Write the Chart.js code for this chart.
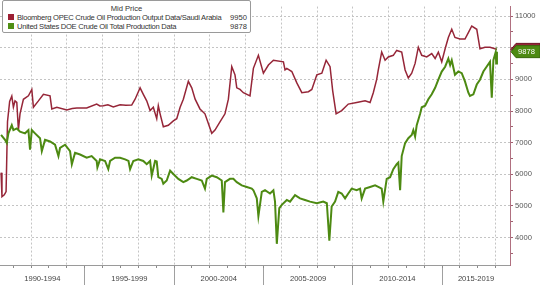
<!DOCTYPE html>
<html>
<head>
<meta charset="utf-8">
<script src="https://cdn.jsdelivr.net/npm/chart.js@4"></script>
<style>
    body { margin: 0; background: #ffffff; }
    #wrap { position: relative; width: 540px; height: 285px; }
    #legend {
        position: absolute; left: 2px; top: 0px; width: 249px; height: 33px;
        border: 1px solid #9a9a9a; border-radius: 2px; background: #ffffff;
        font-family: 'Liberation Sans', Arial, sans-serif; font-size: 7.6px; color: #333;
        box-sizing: border-box;
    }
    #legend .title { text-align: center; margin-top: 3px; line-height: 9px; }
    #legend .row { position: relative; height: 9px; line-height: 9px; padding-left: 14px; letter-spacing: -0.28px; }
    #legend .sq { position: absolute; left: 5px; top: 1px; width: 6px; height: 6px; }
    #legend .val { position: absolute; right: 3px; top: 0; letter-spacing: 0; }
</style>
</head>
<body>
<div id="wrap">
    <canvas id="chart" width="540" height="285"></canvas>
    <div id="legend">
        <div class="title">Mid Price</div>
        <div class="row"><span class="sq" style="background:#9c1f33"></span>Bloomberg OPEC Crude Oil Production Output Data/Saudi Arabia<span class="val">9950</span></div>
        <div class="row"><span class="sq" style="background:#4f8f14"></span>United States DOE Crude Oil Total Production Data<span class="val">9878</span></div>
    </div>
</div>
<script>
const X_MIN = 1990.26;
const X_MAX = 2018.8;
const Y_MIN = 3127;
const Y_MAX = 11305;

const RED = '#962638';
const GREEN = '#4d8a12';
const GRID = '#c4c4c4';

// Saudi Arabia output (thousand b/d)
const saudiYears = [
    1990.32, 1990.37, 1990.50, 1990.60, 1990.68, 1990.80, 1990.92, 1991.01, 1991.10, 1991.20,
    1991.29, 1991.38, 1991.57, 1991.85, 1992.04, 1992.13, 1992.41, 1992.69, 1993.06, 1993.16,
    1993.44, 1994.00, 1994.30, 1994.56, 1995.11, 1995.67, 1995.85, 1996.04, 1996.30, 1996.60,
    1996.98, 1997.30, 1997.63, 1997.82, 1998.10, 1998.28, 1998.47, 1998.66, 1998.84, 1999.03,
    1999.12, 1999.22, 1999.40, 1999.68, 1999.96, 2000.15, 2000.34, 2000.52, 2000.80, 2000.99,
    2001.18, 2001.45, 2001.73, 2001.92, 2002.11, 2002.29, 2002.57, 2002.85, 2003.04, 2003.23,
    2003.41, 2003.51, 2003.69, 2003.88, 2004.25, 2004.44, 2004.72, 2005.00, 2005.28, 2005.56,
    2006.12, 2006.21, 2006.31, 2006.59, 2006.87, 2007.15, 2007.52, 2007.71, 2007.99, 2008.27,
    2008.51, 2008.73, 2008.88, 2009.07, 2009.38, 2009.75, 2010.22, 2010.69, 2010.97, 2011.15,
    2011.34, 2011.43, 2011.62, 2011.81, 2011.99, 2012.27, 2012.46, 2012.74, 2012.93, 2013.11,
    2013.30, 2013.49, 2013.67, 2013.86, 2014.14, 2014.42, 2014.61, 2014.79, 2014.98, 2015.17,
    2015.35, 2015.54, 2015.72, 2016.00, 2016.28, 2016.47, 2016.66, 2016.94, 2017.12, 2017.40,
    2017.68, 2017.96, 2018.07
];
const saudiValues = [
    6050, 5290, 5350, 5450, 7660, 8300, 8470, 8120, 8320, 8270,
    7400, 7910, 8370, 8480, 8680, 8120, 8320, 8530, 8480, 8065,
    8117, 8034, 8080, 8096, 8096, 8220, 8160, 8167, 8200, 8130,
    8200, 8180, 8188, 8374, 8734, 8528, 8321, 8013, 8117, 7756,
    8167, 7911, 7500, 7550, 7686, 7756, 8117, 8374, 8938, 8734,
    8374, 8065, 7911, 7602, 7293, 7395, 7654, 7911, 8374, 9402,
    9145, 8734, 8682, 8580, 8476, 9350, 9762, 9197, 9454, 9608,
    9556, 9300, 9350, 9248, 8889, 8580, 8611, 8682, 9145, 9197,
    9608, 9402, 8630, 7911, 8013, 8219, 8270, 8321, 8270, 8580,
    9000, 9300, 9865, 9608, 9711, 9762, 9917, 9865, 9300, 9043,
    9197, 9506, 10019, 9762, 9711, 9815, 9660, 9865, 9556, 9969,
    10327, 10586, 10327, 10277, 10277, 10482, 10689, 10586, 9969, 10019,
    10019, 9969, 9950
];

// United States crude production (thousand b/d)
const usYears = [
    1990.32, 1990.54, 1990.64, 1990.73, 1990.92, 1991.01, 1991.20, 1991.38, 1991.66, 1991.85,
    1991.94, 1992.04, 1992.22, 1992.50, 1992.60, 1992.78, 1993.06, 1993.34, 1993.53, 1993.62,
    1993.90, 1994.18, 1994.28, 1994.46, 1994.74, 1995.11, 1995.39, 1995.67, 1995.71, 1995.86,
    1996.14, 1996.32, 1996.42, 1996.70, 1996.98, 1997.26, 1997.45, 1997.54, 1997.72, 1998.00,
    1998.28, 1998.47, 1998.66, 1998.75, 1998.94, 1999.03, 1999.12, 1999.31, 1999.40, 1999.59,
    1999.78, 1999.96, 2000.24, 2000.52, 2000.71, 2000.99, 2001.27, 2001.55, 2001.73, 2001.83,
    2002.11, 2002.39, 2002.67, 2002.76, 2002.85, 2003.13, 2003.32, 2003.51, 2003.79, 2004.07,
    2004.35, 2004.44, 2004.63, 2004.72, 2004.91, 2005.09, 2005.37, 2005.56, 2005.65, 2005.75,
    2005.89, 2006.03, 2006.31, 2006.49, 2006.77, 2007.05, 2007.33, 2007.61, 2007.99, 2008.35,
    2008.55, 2008.69, 2008.82, 2009.01, 2009.19, 2009.38, 2009.57, 2009.75, 2009.94, 2010.22,
    2010.41, 2010.50, 2010.69, 2010.97, 2011.25, 2011.43, 2011.62, 2011.71, 2011.90, 2012.09,
    2012.27, 2012.46, 2012.55, 2012.65, 2012.74, 2012.93, 2013.11, 2013.30, 2013.39, 2013.49,
    2013.58, 2013.77, 2013.86, 2014.05, 2014.23, 2014.42, 2014.61, 2014.79, 2014.98, 2015.17,
    2015.35, 2015.45, 2015.54, 2015.72, 2015.91, 2016.10, 2016.28, 2016.47, 2016.56, 2016.75,
    2016.94, 2017.12, 2017.31, 2017.49, 2017.68, 2017.78, 2017.87, 2018.00, 2018.03, 2018.07
];
const usValues = [
    7242, 7087, 6985, 7293, 7550, 7396, 7448, 7345, 7293, 7396,
    6778, 7396, 7293, 7139, 6729, 7087, 7036, 6932, 6575, 6830,
    6932, 6729, 6315, 6676, 6624, 6522, 6575, 6420, 6214, 6470,
    6420, 6160, 6420, 6522, 6522, 6470, 6420, 6160, 6420, 6470,
    6420, 6317, 6420, 5957, 6420, 6400, 5905, 5853, 5698, 5802,
    6111, 6007, 5853, 5750, 5800, 5905, 5853, 5802, 5544, 5853,
    5957, 5905, 5802, 4790, 5750, 5853, 5853, 5750, 5647, 5596,
    5544, 5493, 5236, 4670, 5442, 5493, 5390, 5493, 5133, 3797,
    4927, 5030, 5185, 5133, 5340, 5236, 5185, 5133, 5082, 5133,
    5082, 3900, 4979, 5133, 5442, 5390, 5236, 5390, 5544, 5493,
    5544, 5236, 5544, 5596, 5647, 5596, 5544, 5133, 5853, 5905,
    6160, 6315, 6368, 5493, 6575, 6985, 7139, 7242, 7396, 7190,
    7550, 7911, 8117, 8167, 8374, 8528, 8734, 8991, 9248, 9402,
    9660, 9454, 9608, 9145, 9248, 9197, 8938, 8580, 8476, 8528,
    8837, 8991, 9248, 9402, 9556, 8424, 9608, 9865, 9506, 9878
];

const periodStarts = [1990, 1995, 2000, 2005, 2010, 2015];
const periodLabels = ['1990-1994', '1995-1999', '2000-2004', '2005-2009', '2010-2014', '2015-2019'];

const lastValues = [
    { value: 9950, color: RED, border: '#6e1020' },
    { value: 9878, color: GREEN, border: '#3a6a0c' }
];

function toPoints(xs, ys) {
    return xs.map((x, i) => ({ x: x, y: ys[i] }));
}

// label positions sit in the middle of the visible part of each period
const periodCenters = periodStarts.map(s => (Math.max(s, X_MIN) + Math.min(s + 5, X_MAX)) / 2);

const lastValueTags = {
    id: 'lastValueTags',
    afterDraw(chart) {
        const ctx = chart.ctx;
        const y = chart.scales.y;
        const left = chart.chartArea.right;
        ctx.save();
        for (const tag of lastValues) {
            const py = y.getPixelForValue(tag.value);
            ctx.beginPath();
            ctx.moveTo(left + 1, py);
            ctx.lineTo(left + 6, py - 6);
            ctx.lineTo(540, py - 6);
            ctx.lineTo(540, py + 6);
            ctx.lineTo(left + 6, py + 6);
            ctx.closePath();
            ctx.fillStyle = tag.color;
            ctx.fill();
            ctx.strokeStyle = tag.border;
            ctx.lineWidth = 1;
            ctx.stroke();
            ctx.fillStyle = '#ffffff';
            ctx.font = '7.6px "Liberation Sans", Arial, sans-serif';
            ctx.textBaseline = 'middle';
            ctx.fillText(String(tag.value), left + 8, py + 0.5);
        }
        ctx.restore();
    }
};

Chart.defaults.font.family = '"Liberation Sans", Arial, sans-serif';
Chart.defaults.font.size = 7.6;
Chart.defaults.color = '#444';

const chart = new Chart(document.getElementById('chart'), {
    type: 'line',
    data: {
        datasets: [{
            label: 'Saudi Arabia',
            data: toPoints(saudiYears, saudiValues),
            borderColor: RED,
            borderWidth: 1.5,
            pointRadius: 0,
            tension: 0,
            order: 2
        }, {
            label: 'United States',
            data: toPoints(usYears, usValues),
            borderColor: GREEN,
            borderWidth: 2,
            pointRadius: 0,
            tension: 0,
            order: 1
        }]
    },
    options: {
        responsive: false,
        animation: false,
        layout: { padding: 0 },
        plugins: {
            legend: { display: false },
            tooltip: { enabled: false }
        },
        scales: {
            x: {
                type: 'linear',
                position: 'bottom',
                weight: 0,
                min: X_MIN,
                max: X_MAX,
                afterBuildTicks: (scale) => {
                    const ticks = [];
                    for (let yr = 1991; yr <= 2018; yr++) ticks.push({ value: yr });
                    scale.ticks = ticks;
                },
                afterFit: (scale) => { scale.height = 3; },
                ticks: { display: false },
                grid: {
                    color: (c) => (c.tick && c.tick.value % 2 === 0) ? GRID : 'rgba(0,0,0,0)',
                    tickColor: '#8a8a8a',
                    tickLength: 3,
                    tickBorderDash: []
                },
                border: { display: true, color: '#9a9a9a', dash: [2, 2] }
            },
            x2: {
                type: 'linear',
                position: 'bottom',
                weight: 1,
                min: X_MIN,
                max: X_MAX,
                afterBuildTicks: (scale) => {
                    const ticks = periodStarts.filter(s => s > X_MIN).map(s => ({ value: s }));
                    periodCenters.forEach(c => ticks.push({ value: c }));
                    ticks.sort((a, b) => a.value - b.value);
                    scale.ticks = ticks;
                },
                afterFit: (scale) => { scale.height = 17; },
                ticks: {
                    autoSkip: false,
                    maxRotation: 0,
                    padding: -11,
                    color: '#444',
                    callback: (value) => {
                        const i = periodCenters.findIndex(c => Math.abs(c - value) < 0.001);
                        return i >= 0 ? periodLabels[i] : '';
                    }
                },
                grid: {
                    drawOnChartArea: false,
                    tickLength: 17,
                    tickColor: (c) => (c.tick && Number.isInteger(c.tick.value)) ? '#a0a0a0' : 'rgba(0,0,0,0)'
                },
                border: { display: false }
            },
            y: {
                type: 'linear',
                position: 'right',
                min: Y_MIN,
                max: Y_MAX,
                afterBuildTicks: (scale) => {
                    const ticks = [];
                    for (let v = 3500; v <= 11000; v += 500) ticks.push({ value: v });
                    scale.ticks = ticks;
                },
                afterFit: (scale) => { scale.width = 30; },
                ticks: {
                    padding: 2,
                    color: '#555',
                    callback: (value) => value % 1000 === 0 ? String(value) : ''
                },
                grid: {
                    color: (c) => (c.tick && c.tick.value % 1000 === 0) ? GRID : 'rgba(0,0,0,0)',
                    tickColor: '#a06070',
                    tickLength: 3,
                    tickBorderDash: []
                },
                border: { display: true, color: '#b07080', dash: [2, 2] }
            }
        }
    },
    plugins: [lastValueTags]
});
</script>
</body>
</html>
